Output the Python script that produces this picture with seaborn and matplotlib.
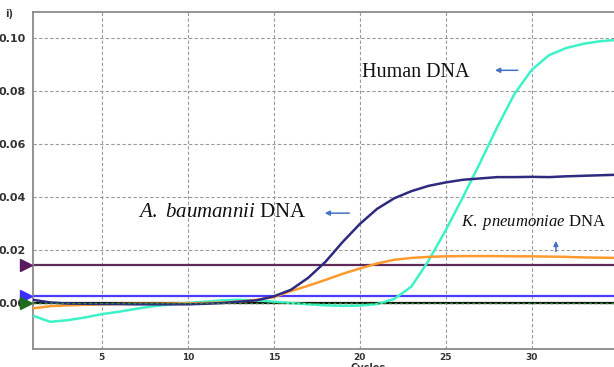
import numpy as np
import pandas as pd
import matplotlib
matplotlib.use("Agg")
import matplotlib.pyplot as plt
import seaborn as sns

# ---- data -------------------------------------------------------------
cycles = list(range(1, 36))
human = [-0.0048, -0.0071, -0.0065, -0.0055, -0.0042, -0.0033, -0.0022, -0.0012, -0.0005, 0.0000,
         0.0005, 0.0010, 0.0012, 0.0010, 0.0005, 0.0000, -0.0005, -0.0009, -0.0011, -0.0010,
         -0.0004, 0.0015, 0.0062, 0.0160, 0.0275, 0.0400, 0.0530, 0.0665, 0.0790, 0.0880,
         0.0935, 0.0962, 0.0978, 0.0988, 0.0993]
baumannii = [0.0012, 0.0002, -0.0002, -0.0003, -0.0004, -0.0004, -0.0005, -0.0005, -0.0005, -0.0005,
             -0.0003, 0.0000, 0.0005, 0.0010, 0.0025, 0.0050, 0.0095, 0.0155, 0.0230, 0.0298,
             0.0355, 0.0395, 0.0422, 0.0442, 0.0455, 0.0465, 0.0470, 0.0475, 0.0475, 0.0476,
             0.0475, 0.0478, 0.0480, 0.0482, 0.0484]
pneumoniae = [-0.0020, -0.0012, -0.0009, -0.0007, -0.0005, -0.0004, -0.0003, -0.0003, -0.0002, -0.0002,
              0.0000, 0.0002, 0.0005, 0.0012, 0.0022, 0.0045, 0.0065, 0.0087, 0.0110, 0.0130,
              0.0149, 0.0163, 0.0170, 0.0174, 0.0176, 0.0177, 0.0177, 0.0177, 0.0176, 0.0176,
              0.0175, 0.0174, 0.0172, 0.0171, 0.0170]
series_names = ["Human DNA", "A. baumannii DNA", "K. pneumoniae DNA"]
thresholds = [0.0143, 0.0026, 0.0]
threshold_colors = ["#5E2A58", "#4A3BFF", "#111111"]
marker_colors = ["#5A1A5E", "#3A2CFF", "#1E6B1E"]
x_ticks = [5, 10, 15, 20, 25, 30]
y_ticks = [0.0, 0.02, 0.04, 0.06, 0.08, 0.10]
y_ticklabels = ["0.00", "0.02", "0.04", "0.06", "0.08", "0.10"]

df = pd.DataFrame({
    "Cycles": cycles * 3,
    "dRn": human + baumannii + pneumoniae,
    "Sample": np.repeat(series_names, len(cycles)),
})
palette = {"Human DNA": "#3DF2C6", "A. baumannii DNA": "#2E2A7E", "K. pneumoniae DNA": "#FF9A2E"}

# ---- figure -----------------------------------------------------------
sns.set_theme(style="white")
plt.rcParams["mathtext.fontset"] = "custom"
plt.rcParams["mathtext.it"] = "Liberation Serif:italic"
plt.rcParams["mathtext.rm"] = "Liberation Serif"

fig = plt.figure(figsize=(6.14, 3.67), dpi=100)
ax = fig.add_axes([33 / 614, 18 / 367, 584.8 / 614, 337 / 367])

# thresholds
for val, col in zip(thresholds, threshold_colors):
    ax.axhline(val, color=col, lw=1.6, zorder=2)
ax.axhline(thresholds[2], color="#2E8B2E", lw=1.0, ls=(0, (2, 2)), zorder=5)

sns.lineplot(data=df, x="Cycles", y="dRn", hue="Sample", palette=palette,
             hue_order=["Human DNA", "K. pneumoniae DNA", "A. baumannii DNA"],
             lw=1.8, legend=False, ax=ax, zorder=3)

# threshold markers at left edge
trans = matplotlib.transforms.blended_transform_factory(ax.transAxes, ax.transData)
for val, col in zip(thresholds, marker_colors):
    ax.plot([-0.0115], [val], marker=">", ms=9, color=col, transform=trans,
            clip_on=False, zorder=10, mec=col)

ax.set_xlim(1, 35)
ax.set_ylim(-0.01736, 0.1098)
ax.set_xticks(x_ticks)
ax.set_yticks(y_ticks)
ax.set_yticklabels(y_ticklabels)
ax.tick_params(axis="x", length=0, labelsize=6.5, colors="#333333", pad=3)
ax.tick_params(axis="y", length=0, labelsize=8, colors="#333333", pad=5)
for lab in ax.get_xticklabels() + ax.get_yticklabels():
    lab.set_fontweight("bold")
ax.grid(True, color="#9a9a9a", lw=0.8, ls=(0, (3, 2)))
ax.set_axisbelow(True)
for s in ax.spines.values():
    s.set_color("#8a8a8a")
    s.set_linewidth(1.3)

ax.set_ylabel("")
ax.set_xlabel("Cycles", fontsize=7, color="#333333", fontweight="bold")
ax.xaxis.set_label_coords(0.573, -0.043)

# annotations
arrow_kw = dict(arrowstyle="-|>", color="#4472C4", lw=1.1, mutation_scale=7)
ax.text(20.1, 0.0871, "Human DNA", fontsize=14.5, family="Liberation Serif",
        va="center", ha="left", color="#111111")
ax.annotate("", xy=(27.7, 0.0878), xytext=(29.35, 0.0878), arrowprops=arrow_kw)

ax.text(7.1, 0.0341, r"$\mathit{A.\ baumannii}$ DNA", fontsize=15, family="Liberation Serif",
        va="center", ha="left", color="#111111")
ax.annotate("", xy=(17.8, 0.0339), xytext=(19.55, 0.0339), arrowprops=arrow_kw)

ax.text(25.9, 0.0302, r"$\mathit{K.\ pneumoniae}$ DNA", fontsize=12, family="Liberation Serif",
        va="center", ha="left", color="#111111")
ax.annotate("", xy=(31.4, 0.0245), xytext=(31.4, 0.0184), arrowprops=arrow_kw)

fig.text(0.008, 0.955, "i)", fontsize=7, fontweight="bold", color="#333333")

fig.savefig("out.png", dpi=100)
